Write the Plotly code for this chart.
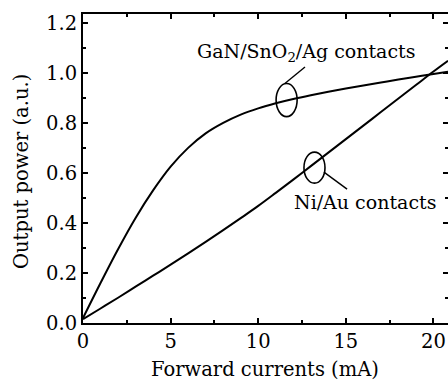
import plotly.graph_objects as go

current = [0, 1, 2, 3, 4, 5, 6, 7, 8, 9, 10, 11, 12, 13, 14, 15, 16, 17, 18, 19, 20, 20.83]
gan_sno2_ag = [0.02, 0.16, 0.295, 0.42, 0.53, 0.625, 0.70, 0.758, 0.80, 0.833, 0.858, 0.878, 0.895, 0.91, 0.924, 0.937, 0.949, 0.961, 0.973, 0.984, 0.995, 1.004]
ni_au = [0.015, 0.058, 0.101, 0.145, 0.189, 0.233, 0.278, 0.324, 0.371, 0.419, 0.468, 0.52, 0.573, 0.627, 0.681, 0.735, 0.789, 0.843, 0.897, 0.951, 1.005, 1.048]

x_ticks = [0, 5, 10, 15, 20]
y_ticks = [0.0, 0.2, 0.4, 0.6, 0.8, 1.0, 1.2]
y_tick_labels = ["0.0", "0.2", "0.4", "0.6", "0.8", "1.0", "1.2"]

FONT = "DejaVu Serif"
FS = 19.5
X_RANGE = [0, 20.83]
Y_RANGE = [0, 1.235]

fig = go.Figure()
fig.add_trace(go.Scatter(x=current, y=gan_sno2_ag, mode="lines",
                         line=dict(color="black", width=2, shape="spline", smoothing=1.0),
                         showlegend=False))
fig.add_trace(go.Scatter(x=current, y=ni_au, mode="lines",
                         line=dict(color="black", width=2, shape="spline", smoothing=1.0),
                         showlegend=False))

# ellipses and leader lines
fig.add_shape(type="circle", xref="x", yref="y", x0=11.02, x1=12.22, y0=0.825, y1=0.957,
              line=dict(color="black", width=1.6))
fig.add_shape(type="circle", xref="x", yref="y", x0=12.61, x1=13.81, y0=0.559, y1=0.683,
              line=dict(color="black", width=1.6))
fig.add_shape(type="line", xref="x", yref="y", x0=11.52, y0=0.957, x1=12.67, y1=1.023,
              line=dict(color="black", width=1.4))
fig.add_shape(type="line", xref="x", yref="y", x0=13.75, y0=0.603, x1=15.07, y1=0.535,
              line=dict(color="black", width=1.4))

fig.add_annotation(x=12.7, y=1.083, xref="x", yref="y", showarrow=False,
                   xanchor="center", yanchor="middle",
                   text="GaN/SnO<sub>2</sub>/Ag contacts",
                   font=dict(family=FONT, size=19, color="black"))
fig.add_annotation(x=16.07, y=0.484, xref="x", yref="y", showarrow=False,
                   xanchor="center", yanchor="middle",
                   text="Ni/Au contacts",
                   font=dict(family=FONT, size=19, color="black"))

# axis titles
fig.add_annotation(x=-0.167, y=0.489, xref="paper", yref="paper", showarrow=False,
                   xanchor="center", yanchor="middle",
                   text="Output power (a.u.)", textangle=-90,
                   font=dict(family=FONT, size=FS, color="black"))
fig.add_annotation(x=0.499, y=-0.152, xref="paper", yref="paper", showarrow=False,
                   xanchor="center", yanchor="middle",
                   text="Forward currents (mA)",
                   font=dict(family=FONT, size=FS, color="black"))

axis_common = dict(showline=True, linecolor="black", linewidth=2, mirror=True,
                   ticks="inside", ticklen=5, tickwidth=2, tickcolor="black",
                   showgrid=False, zeroline=False, automargin=False,
                   tickfont=dict(family=FONT, size=FS, color="black"))
x_minor = dict(ticks="inside", ticklen=3, tickwidth=2, tickcolor="black", dtick=2.5, tick0=0)
y_minor = dict(ticks="inside", ticklen=3, tickwidth=2, tickcolor="black", dtick=0.1, tick0=0)

fig.update_layout(
    width=448, height=383, margin=dict(l=83, r=0, t=14, b=60),
    plot_bgcolor="white", paper_bgcolor="white",
    xaxis=dict(range=X_RANGE, tickvals=x_ticks, ticktext=[str(v) for v in x_ticks],
               minor=x_minor, **axis_common),
    yaxis=dict(range=Y_RANGE, tickvals=y_ticks, ticktext=y_tick_labels,
               minor=y_minor, **axis_common),
    # top and right tick marks
    xaxis2=dict(overlaying="x", side="top", anchor="y", range=X_RANGE, tickvals=x_ticks,
                showticklabels=False, ticks="inside", ticklen=5, tickwidth=2, tickcolor="black",
                minor=x_minor, showgrid=False, zeroline=False, showline=False),
    yaxis2=dict(overlaying="y", side="right", anchor="x", range=Y_RANGE, tickvals=y_ticks,
                showticklabels=False, ticks="inside", ticklen=5, tickwidth=2, tickcolor="black",
                minor=y_minor, showgrid=False, zeroline=False, showline=False),
)
# invisible helper trace so the top/right tick axes are drawn
fig.add_trace(go.Scatter(x=[current[0]], y=[ni_au[0]], xaxis="x2", yaxis="y2", mode="lines",
                         line=dict(color="rgba(0,0,0,0)"), showlegend=False, hoverinfo="skip"))

fig.write_html("out.html", config={"displayModeBar": False},
               post_script="document.body.style.margin='0';document.body.style.overflow='hidden';")
